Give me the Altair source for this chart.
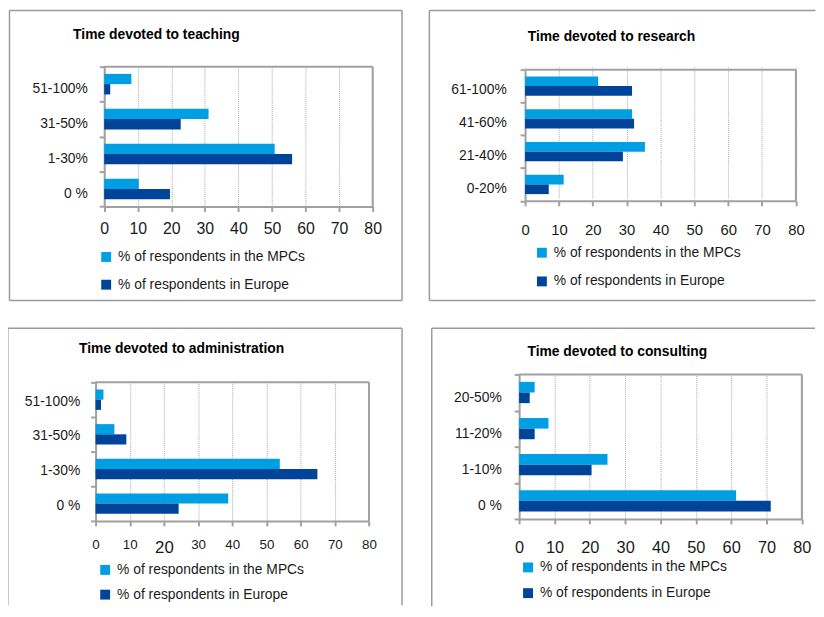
import altair as alt
import pandas as pd

FONT = "Liberation Sans"
MPC_COLOR = "#009fe3"
EUR_COLOR = "#00449a"
GREY = "#a0a0a0"
TXT = "#1a1a1a"

x_ticks = [0, 10, 20, 30, 40, 50, 60, 70, 80]

teach_cats = ["51-100%", "31-50%", "1-30%", "0 %"]
teach_mpc = [8.1, 31.1, 50.8, 10.3]
teach_eur = [1.8, 22.8, 56.0, 19.6]

research_cats = ["61-100%", "41-60%", "21-40%", "0-20%"]
research_mpc = [21.6, 31.6, 35.4, 11.4]
research_eur = [31.6, 32.2, 28.9, 7.0]

admin_cats = ["51-100%", "31-50%", "1-30%", "0 %"]
admin_mpc = [2.3, 5.5, 53.9, 38.8]
admin_eur = [1.6, 9.0, 64.9, 24.3]

consult_cats = ["20-50%", "11-20%", "1-10%", "0 %"]
consult_mpc = [4.4, 8.3, 25.0, 61.4]
consult_eur = [3.0, 4.4, 20.5, 71.2]

MPC_LABEL = "% of respondents in the MPCs"
MPC_LABEL_2 = "% of respondents in  the MPCs"
EUR_LABEL = "% of respondents in Europe"

one = pd.DataFrame({"k": [0]})


def hrule(x1, x2, y, op=1, color="#9a9a9a", sw=1.5):
    return alt.Chart(one).mark_rule(color=color, strokeWidth=sw, opacity=op).encode(
        x=alt.value(x1), x2=alt.value(x2), y=alt.value(y))


def vrule(x, y1, y2, op=1, color="#9a9a9a", sw=1.5):
    return alt.Chart(one).mark_rule(color=color, strokeWidth=sw, opacity=op).encode(
        x=alt.value(x), y=alt.value(y1), y2=alt.value(y2))


def panel(cats, mpc, eur, mpc_label, title, w, h, dx, dy, title_xy, legend_xy,
          row_pad, xlab_size, xlab_pad, ylab_pad, ylab_off, border, pad_left=0,
          xlab_big=None):
    df = pd.DataFrame({
        "cat": cats * 2,
        "series": [mpc_label] * len(cats) + [EUR_LABEL] * len(cats),
        "value": mpc + eur,
    })
    order = [mpc_label, EUR_LABEL]
    lab_size = xlab_size
    lab_pad = xlab_pad
    if xlab_big is not None:
        lab_size = {"condition": {"test": "datum.value == %d" % xlab_big[0],
                                  "value": xlab_big[1]}, "value": xlab_size}
        lab_pad = {"condition": {"test": "datum.value == %d" % xlab_big[0],
                                 "value": xlab_big[2]}, "value": xlab_pad}
    bars = alt.Chart(df).mark_bar().encode(
        x=alt.X("value:Q",
                scale=alt.Scale(domain=[0, 80], nice=False, range=[dx, dx + w]),
                axis=alt.Axis(values=x_ticks, title=None, grid=True,
                              gridColor="#a8a8a8", gridDash=[1, 1], gridWidth=1,
                              domainColor=GREY, domainWidth=2,
                              tickColor=GREY, tickWidth=2, tickSize=5,
                              labelFont=FONT, labelColor=TXT,
                              labelFontSize=lab_size, labelPadding=lab_pad,
                              labelFlush=False, labelOverlap=False)),
        y=alt.Y("cat:N", sort=cats,
                scale=alt.Scale(paddingInner=0, paddingOuter=0, range=[dy, dy + h]),
                axis=alt.Axis(title=None, tickBand="extent", grid=False,
                              offset=-dx, labelOffset=ylab_off,
                              domainColor=GREY, domainWidth=2,
                              tickColor=GREY, tickWidth=2, tickSize=5,
                              labelFont=FONT, labelColor=TXT, labelFontSize=14,
                              labelPadding=ylab_pad)),
        yOffset=alt.YOffset("series:N", sort=order,
                            scale=alt.Scale(paddingOuter=0.7, paddingInner=0)),
        color=alt.Color("series:N", sort=order,
                        scale=alt.Scale(domain=order, range=[MPC_COLOR, EUR_COLOR]),
                        legend=alt.Legend(orient="none", legendX=legend_xy[0],
                                          legendY=legend_xy[1], title=None,
                                          direction="vertical",
                                          symbolType="square", symbolSize=100,
                                          symbolStrokeWidth=0, labelFont=FONT,
                                          labelFontSize=14, labelColor=TXT,
                                          labelLimit=0,
                                          labelOffset=5, rowPadding=row_pad,
                                          padding=0)),
    )
    ttl = alt.Chart(one).mark_text(
        align="left", baseline="middle", font=FONT, fontSize=14,
        fontWeight="bold", color="#000000").encode(
        x=alt.value(title_xy[0]), y=alt.value(title_xy[1]), text=alt.value(title))
    frame = [
        hrule(dx, dx + w, dy, color=GREY, sw=2),
        vrule(dx + w, dy, dy + h, color=GREY, sw=2),
    ]
    left, top, right, bottom, sides = border
    rules = []
    if "t" in sides:
        rules.append(hrule(left, right, top))
    if "b" in sides:
        rules.append(hrule(left, right, bottom))
    if "l" in sides:
        rules.append(vrule(left, top, bottom))
    if "r" in sides:
        rules.append(vrule(right, top, bottom))
    if pad_left:
        rules.append(vrule(left - pad_left, top, top + 1, op=0))
    return alt.layer(bars, *frame, ttl, *rules).properties(width=dx + w, height=dy + h)


# panel 1: origin shared with panel 3's plot left (x) -> plot shifted by dx
p1 = panel(teach_cats, teach_mpc, teach_eur, MPC_LABEL,
           "Time devoted to teaching", 271.3, 141.3, 8.7, 0,
           (-22.7, -32.0), (3.7, 185.3), 14, 16, 9.5, 12, 4.5,
           (-87.0, -56.7, 309.7, 236.3, "tblr"))
# panel 2: origin shared with panel 1's plot top (y) -> plot shifted by dy
p2 = panel(research_cats, research_mpc, research_eur, MPC_LABEL_2,
           "Time devoted to research", 273.7, 132.6, 0, 3.0,
           (2.7, -29.5), (10, 181.0), 15, 15, 16.5, 14, 4.0,
           (-96.7, -56.7, 293.5, 236.3, "tbl"))
p3 = panel(admin_cats, admin_mpc, admin_eur, MPC_LABEL,
           "Time devoted to administration", 276.3, 140.0, 0, 0,
           (-16.7, -33.4), (2.7, 182.5), 11, 13.5, 12, 11, 1.5,
           (-88.7, -54.7, 309.7, 225.3, "tlr"), xlab_big=(20, 17, 13.5))
p4 = panel(consult_cats, consult_mpc, consult_eur, MPC_LABEL,
           "Time devoted to consulting", 285.7, 146.0, 0, 0,
           (8.4, -22.4), (2.0, 188.0), 12, 16.5, 15.5, 13, 5.0,
           (-88.3, -46.7, 299.0, 234.3, "tl"), pad_left=3)

chart = alt.concat(
    p1, p2, p3, p4, columns=2, align="none",
    spacing={"row": 25, "column": 25},
).resolve_scale(
    color="independent", x="independent", y="independent", yOffset="independent"
).properties(
    padding={"left": -1.5, "top": -1.85, "right": -1, "bottom": -4},
    background="#ffffff",
).configure_view(stroke="transparent", strokeWidth=0)

chart.save("out.html", embed_options={"renderer": "svg", "actions": False})
